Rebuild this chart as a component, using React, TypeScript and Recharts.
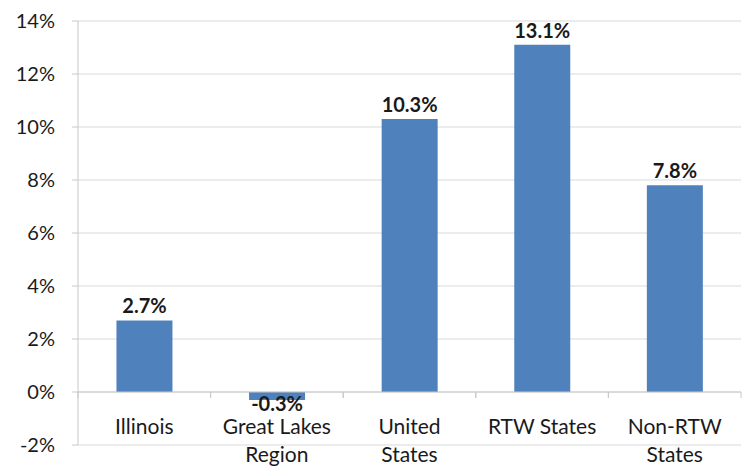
import React from 'react';
import {
  Bar,
  BarChart,
  CartesianGrid,
  LabelList,
  ReferenceLine,
  XAxis,
  YAxis,
} from 'recharts';

const regions = ['Illinois', 'Great Lakes Region', 'United States', 'RTW States', 'Non-RTW States'];
const growth = [2.7, -0.3, 10.3, 13.1, 7.8];
const yTicks = [-2, 0, 2, 4, 6, 8, 10, 12, 14];

// two-line category labels, split the way the axis wraps them
const tickLines: Record<string, string[]> = {
  Illinois: ['Illinois'],
  'Great Lakes Region': ['Great Lakes', 'Region'],
  'United States': ['United', 'States'],
  'RTW States': ['RTW States'],
  'Non-RTW States': ['Non-RTW', 'States'],
};

const data = regions.map((name, i) => ({ name, value: growth[i] }));

const W = 748;
const H = 466;
const margin = { top: 21, right: 7, left: 0, bottom: 0 };
const yAxisWidth = 78;
const xAxisHeight = 21;
const bandWidth = (W - margin.left - margin.right - yAxisWidth) / regions.length;
const FONT = 'Lato, "Open Sans", sans-serif';
const TEXT = '#1a1a1a';
const LINE = '#c8c8c8';

// labels sit just under the zero line, not at the bottom of the plot
const CategoryTick = (props: any) => {
  const { x, payload } = props;
  const lines = tickLines[payload.value] || [payload.value];
  const plotBottom = H - margin.bottom - xAxisHeight;
  const zeroY = plotBottom - (plotBottom - margin.top) / 8;
  return (
    <g>
      <line x1={x - bandWidth / 2} x2={x - bandWidth / 2} y1={zeroY} y2={zeroY + 6} stroke={LINE} />
      <line x1={x + bandWidth / 2} x2={x + bandWidth / 2} y1={zeroY} y2={zeroY + 6} stroke={LINE} />
      {lines.map((t, i) => (
        <text
          key={t}
          x={x}
          y={zeroY + 42 + i * 28}
          textAnchor="middle"
          style={{ fontFamily: FONT, fontSize: 21 }}
          fill={TEXT}>
          {t}
        </text>
      ))}
    </g>
  );
};

const ValueLabel = (props: any) => {
  const { x, y, width, height, value } = props;
  const top = Math.min(y, y + height);
  const bottom = Math.max(y, y + height);
  const cy = value < 0 ? bottom + 11 : top - 7;
  return (
    <text
      x={x + width / 2}
      y={cy}
      textAnchor="middle"
      style={{ fontFamily: FONT, fontSize: 20, fontWeight: 'bold' }}
      fill={TEXT}>
      {value.toFixed(1)}%
    </text>
  );
};

export default function App() {
  return (
    <div style={{ position: 'absolute', left: 0, top: 0, background: '#fff' }}>
      <BarChart width={W} height={H} data={data} margin={margin} barCategoryGap="29%">
        <CartesianGrid vertical={false} stroke="#d9d9d9" />
        <XAxis
          dataKey="name"
          height={xAxisHeight}
          axisLine={false}
          tickLine={false}
          interval={0}
          tick={<CategoryTick />}
        />
        <YAxis
          width={yAxisWidth}
          domain={[-2, 14]}
          ticks={yTicks}
          interval={0}
          tickFormatter={(v: number) => `${v}%`}
          axisLine={{ stroke: LINE }}
          tickLine={{ stroke: LINE }}
          tickSize={6}
          tickMargin={17}
          tick={{ fontFamily: FONT, fontSize: 20, fill: TEXT }}
        />
        <ReferenceLine y={0} stroke={LINE} />
        <Bar dataKey="value" fill="#4F81BD" isAnimationActive={false}>
          <LabelList dataKey="value" content={<ValueLabel />} />
        </Bar>
      </BarChart>
    </div>
  );
}
